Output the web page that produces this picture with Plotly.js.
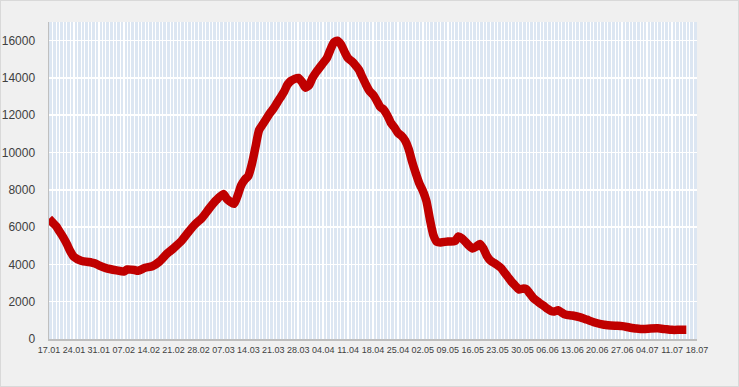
<!DOCTYPE html>
<html>
<head>
<meta charset="utf-8">
<script src="https://cdn.plot.ly/plotly-3.0.1.min.js"></script>
<style>
  html, body { margin: 0; padding: 0; background: #f0f0f0; }
  #chart { width: 737px; height: 385px; border: 1px solid #d9d9d9; }
</style>
</head>
<body>
<div id="chart"></div>
<script>
const dates = [
  "2021-01-17","2021-01-18","2021-01-19","2021-01-20","2021-01-21","2021-01-22","2021-01-23","2021-01-24",
  "2021-01-26","2021-01-29","2021-01-30","2021-01-31","2021-02-02","2021-02-05","2021-02-07","2021-02-08",
  "2021-02-10","2021-02-11","2021-02-13","2021-02-15","2021-02-17","2021-02-19","2021-02-21","2021-02-23",
  "2021-02-25","2021-02-27","2021-03-01","2021-03-03","2021-03-05","2021-03-07","2021-03-08","2021-03-10",
  "2021-03-11","2021-03-12","2021-03-13","2021-03-14","2021-03-15","2021-03-16","2021-03-17","2021-03-18",
  "2021-03-19","2021-03-20","2021-03-21","2021-03-22","2021-03-23","2021-03-24","2021-03-25","2021-03-26",
  "2021-03-27","2021-03-28","2021-03-29","2021-03-30","2021-03-31","2021-04-01","2021-04-02","2021-04-03",
  "2021-04-04","2021-04-05","2021-04-06","2021-04-07","2021-04-08","2021-04-09","2021-04-10","2021-04-11",
  "2021-04-12","2021-04-13","2021-04-14","2021-04-15","2021-04-16","2021-04-17","2021-04-18","2021-04-19",
  "2021-04-20","2021-04-21","2021-04-22","2021-04-23","2021-04-24","2021-04-25","2021-04-26","2021-04-27",
  "2021-04-28","2021-04-29","2021-04-30","2021-05-01","2021-05-02","2021-05-03","2021-05-04","2021-05-05",
  "2021-05-06","2021-05-07","2021-05-09","2021-05-11","2021-05-12","2021-05-13","2021-05-14","2021-05-15",
  "2021-05-16","2021-05-17","2021-05-18","2021-05-19","2021-05-20","2021-05-21","2021-05-22","2021-05-23",
  "2021-05-24","2021-05-25","2021-05-26","2021-05-27","2021-05-28","2021-05-29","2021-05-30","2021-05-31",
  "2021-06-01","2021-06-02","2021-06-03","2021-06-04","2021-06-05","2021-06-06","2021-06-07","2021-06-08",
  "2021-06-09","2021-06-10","2021-06-11","2021-06-13","2021-06-15","2021-06-17","2021-06-19","2021-06-21",
  "2021-06-23","2021-06-25","2021-06-27","2021-06-29","2021-07-01","2021-07-03","2021-07-05","2021-07-07",
  "2021-07-09","2021-07-11","2021-07-13","2021-07-15"
];
const values = [
  6450,6250,6050,5750,5450,5100,4700,4400,
  4200,4100,4050,3950,3800,3680,3620,3730,
  3700,3660,3820,3900,4150,4550,4870,5220,
  5700,6150,6500,7000,7450,7780,7500,7250,
  7700,8250,8550,8750,9400,10300,11200,11500,
  11800,12100,12350,12650,12950,13250,13650,13850,
  13950,14000,13800,13480,13600,14000,14300,14550,
  14800,15050,15500,15900,16000,15800,15400,15050,
  14900,14700,14450,14050,13650,13300,13100,12800,
  12450,12300,12000,11600,11350,11050,10900,10650,
  10200,9500,8900,8350,7950,7400,6400,5550,
  5200,5180,5230,5250,5500,5400,5200,5000,
  4850,4950,5100,4850,4450,4200,4080,3950,
  3800,3550,3300,3050,2850,2650,2700,2680,
  2450,2200,2050,1900,1770,1620,1500,1480,
  1540,1420,1310,1260,1170,1040,900,800,
  740,710,690,620,560,530,560,570,
  530,490,490,490
];
const xStart = "2021-01-17";
const xEnd = "2021-07-18";
const yTicks = [0,2000,4000,6000,8000,10000,12000,14000,16000];
const DAY = 86400000;

const trace = {
  type: "scatter",
  mode: "lines",
  x: dates,
  y: values,
  line: { color: "#c00000", width: 8.5, shape: "spline", smoothing: 0.6 },
  hoverinfo: "x+y"
};

const layout = {
  width: 737,
  height: 385,
  margin: { l: 48, r: 41, t: 21, b: 47 },
  paper_bgcolor: "#f0f0f0",
  plot_bgcolor: "#dce6f2",
  showlegend: false,
  font: { family: "Liberation Sans, Arial, sans-serif", color: "#404040" },
  xaxis: {
    type: "date",
    range: [xStart, xEnd],
    tick0: xStart,
    dtick: 7 * DAY,
    tickformat: "%d.%m",
    tickangle: 0,
    tickfont: { family: "Liberation Sans Narrow, Liberation Sans, Arial Narrow, sans-serif", size: 9, color: "#404040" },
    showgrid: true,
    gridcolor: "#ffffff",
    gridwidth: 1.5,
    minor: { dtick: DAY, tick0: xStart, showgrid: true, gridcolor: "#ffffff", gridwidth: 1 },
    showline: true,
    linecolor: "#bfbfbf",
    linewidth: 1.5,
    ticks: "",
    ticklabelstandoff: 2,
    zeroline: false,
    fixedrange: true
  },
  yaxis: {
    range: [0, 17000],
    tickvals: yTicks,
    ticktext: yTicks.map(String),
    tickfont: { family: "Liberation Sans, Arial, sans-serif", size: 12, color: "#404040" },
    showgrid: true,
    gridcolor: "#ffffff",
    gridwidth: 1.5,
    showline: true,
    linecolor: "#bfbfbf",
    linewidth: 1.5,
    ticks: "",
    ticklabelstandoff: 10,
    zeroline: false,
    fixedrange: true
  }
};

Plotly.newPlot("chart", [trace], layout, { displayModeBar: false, staticPlot: true });
</script>
</body>
</html>
